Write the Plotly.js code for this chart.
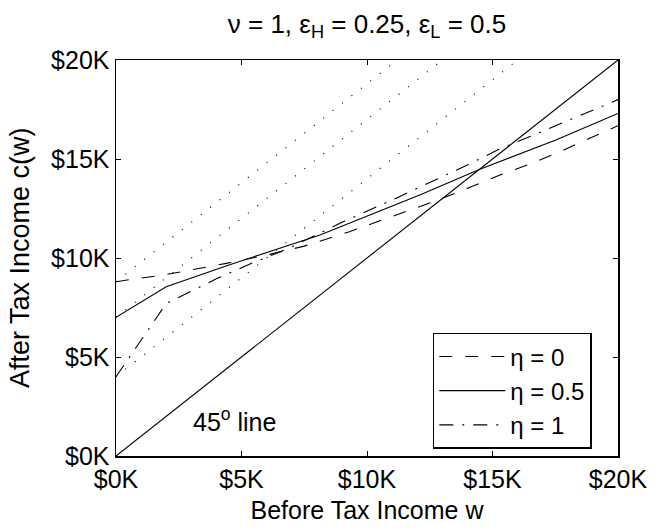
<!DOCTYPE html>
<html>
<head>
<meta charset="utf-8">
<script src="https://cdn.plot.ly/plotly-3.0.1.min.js"></script>
<style>html,body{margin:0;padding:0;background:#fff;}</style>
</head>
<body>
<div id="chart" style="width:665px;height:531px;"></div>
<script>
// Before-tax income w (in $K) and after-tax income c(w) (in $K)
const eta0X = [0, 0.6, 1.9, 3.2, 4.4, 6.0, 7.5, 9.3, 10.5, 11.7, 12.9, 14.1, 15.3, 16.5, 17.7, 18.8, 20];
const eta0Y = [8.8, 8.92, 9.14, 9.43, 9.73, 10.15, 10.6, 11.33, 11.87, 12.41, 12.96, 13.57, 14.19, 14.75, 15.37, 16.01, 16.68];

const eta05X = [0, 2.0, 4.5, 8.1, 12.1, 14.5, 17.5, 20];
const eta05Y = [7.0, 8.55, 9.65, 11.15, 13.18, 14.48, 15.95, 17.3];

const eta1X = [0, 2.0, 4.0, 5.4, 6.9, 9.0, 11.0, 12.4, 14.0, 15.2, 16.6, 18.0, 20];
const eta1Y = [4.0, 7.7, 8.95, 9.73, 10.5, 11.8, 12.93, 13.74, 14.7, 15.45, 16.2, 16.93, 18.0];

// 45 degree line
const diagX = [0, 20];
const diagY = [0, 20];

// dotted slope-one guide lines starting at each curve's intercept
const guide0X = [0, 11.2];
const guide0Y = [8.8, 20];
const guide05X = [0, 13.0];
const guide05Y = [7.0, 20];
const guide1X = [0, 16.0];
const guide1Y = [4.0, 20];

const tickVals = [0, 5, 10, 15, 20];
const tickText = ['$0K', '$5K', '$10K', '$15K', '$20K'];

const seriesNames = ['η = 0', 'η = 0.5', 'η = 1'];

const FONT = 'Liberation Sans, Arial, Helvetica, sans-serif';
const thin = 1.1;

const traces = [
  {x: guide0X, y: guide0Y, mode: 'lines', line: {color: 'black', width: 1.2, dash: '1px,11px'}, showlegend: false, hoverinfo: 'skip'},
  {x: guide05X, y: guide05Y, mode: 'lines', line: {color: 'black', width: 1.2, dash: '1px,11px'}, showlegend: false, hoverinfo: 'skip'},
  {x: guide1X, y: guide1Y, mode: 'lines', line: {color: 'black', width: 1.2, dash: '1px,11px'}, showlegend: false, hoverinfo: 'skip'},
  {x: diagX, y: diagY, mode: 'lines', line: {color: 'black', width: thin}, showlegend: false, hoverinfo: 'skip'},
  {x: eta0X, y: eta0Y, name: seriesNames[0], mode: 'lines', line: {color: 'black', width: thin, dash: '13px,13px'}},
  {x: eta05X, y: eta05Y, name: seriesNames[1], mode: 'lines', line: {color: 'black', width: thin}},
  {x: eta1X, y: eta1Y, name: seriesNames[2], mode: 'lines', line: {color: 'black', width: thin, dash: '14px,9px,2px,9px'}}
];

const axisCommon = {
  range: [0, 20],
  tickvals: tickVals,
  ticktext: tickText,
  ticks: 'inside',
  ticklen: 5,
  tickwidth: 1,
  tickcolor: 'black',
  showline: true,
  linecolor: 'black',
  linewidth: 1.5,
  mirror: 'ticks',
  showgrid: false,
  zeroline: false,
  fixedrange: true,
  tickfont: {family: FONT, size: 25, color: 'black'}
};

const layout = {
  width: 665,
  height: 531,
  margin: {l: 116, r: 47, t: 60, b: 75},
  paper_bgcolor: 'white',
  plot_bgcolor: 'white',
  font: {family: FONT, size: 25, color: 'black'},
  title: {
    text: 'ν = 1, ε<sub>H</sub> = 0.25, ε<sub>L</sub> = 0.5',
    font: {family: FONT, size: 26, color: 'black'},
    x: 0.5, xref: 'paper', xanchor: 'center',
    y: 0.955, yref: 'container', yanchor: 'middle'
  },
  xaxis: Object.assign({}, axisCommon, {
    title: {text: 'Before Tax Income w', font: {family: FONT, size: 25, color: 'black'}, standoff: 10}
  }),
  yaxis: Object.assign({}, axisCommon),
  legend: {
    x: 0.631, y: 0.311, xanchor: 'left', yanchor: 'top',
    bgcolor: 'white', bordercolor: 'black', borderwidth: 1.5,
    itemwidth: 66,
    entrywidth: 109, entrywidthmode: 'pixels',
    font: {family: FONT, size: 24, color: 'black'}
  },
  annotations: [
    {x: 3.0, y: 1.8, xref: 'x', yref: 'y', text: '45<sup>o</sup> line', showarrow: false,
     xanchor: 'left', yanchor: 'middle', font: {family: FONT, size: 25, color: 'black'}},
    {x: -0.191, y: 0.5, xref: 'paper', yref: 'paper', text: 'After Tax Income c(w)', showarrow: false,
     textangle: -90, xanchor: 'center', yanchor: 'middle', font: {family: FONT, size: 27, color: 'black'}}
  ],
  showlegend: true
};

Plotly.newPlot('chart', traces, layout, {displayModeBar: false, staticPlot: true});
</script>
</body>
</html>
